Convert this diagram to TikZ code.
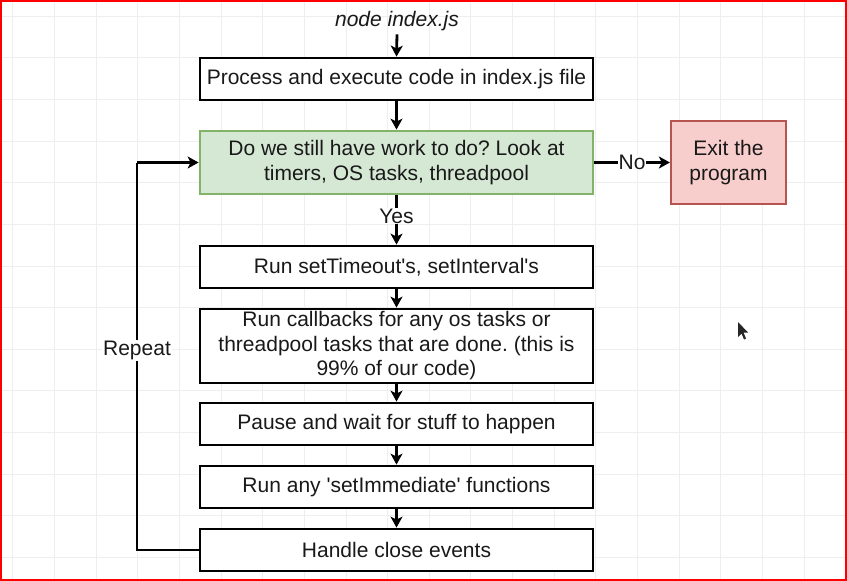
\documentclass[tikz,border=0pt]{standalone}
\usepackage{fontspec}
\setmainfont{Liberation Sans}
\newfontfamily\lsans{Liberation Sans}
\usetikzlibrary{arrows.meta}
\definecolor{gridc}{HTML}{EEEEEE}
\definecolor{greenfill}{HTML}{D5E8D4}
\definecolor{greenline}{HTML}{82B366}
\definecolor{redfill}{HTML}{F8CECC}
\definecolor{redline}{HTML}{B85450}
\tikzset{
  box/.style={draw=black, line width=2.8pt, fill=white, minimum width=393pt, inner sep=2pt,
    align=center, font=\lsans\fontsize{21}{24.5}\selectfont, text=black!90},
  conn/.style={line width=2.8pt, -{Stealth[length=11pt,width=12pt,inset=3pt]}},
  lbl/.style={fill=white, inner sep=1pt, font=\lsans\fontsize{21}{24}\selectfont, text=black!90}
}
\begin{document}
\frenchspacing
\begin{tikzpicture}[x=1pt,y=-1pt]
\useasboundingbox (0,0) rectangle (847,581);
\fill[white] (0,0) rectangle (847,581);
% faint grid
\foreach \i in {0,...,20} {\draw[gridc, line width=0.8pt] ({12.7+41.65*\i},0) -- ({12.7+41.65*\i},581);}
\foreach \j in {0,...,13} {\draw[gridc, line width=0.8pt] (0,{16+41.65*\j}) -- (847,{16+41.65*\j});}
% frame
\draw[red, line width=2pt] (1,1) rectangle (846,580);

\node[font=\lsans\fontsize{21}{24}\selectfont\itshape, text=black!90] (start) at (397,21) {node index.js};
\node[box, minimum height=42pt] (b1) at (396.5,79) {Process and execute code in index.js file};
\node[box, minimum height=63pt, draw=greenline, fill=greenfill] (check) at (396.5,162.5) {Do we still have work to do? Look at\\timers, OS tasks, threadpool};
\node[box, minimum width=115pt, minimum height=83pt, draw=redline, fill=redfill, line width=2.2pt] (exit) at (728.5,162.5) {Exit the\\program};
\node[box, minimum height=42pt] (b3) at (396.5,267) {Run setTimeout's, setInterval's};
\node[box, minimum height=74pt] (b4) at (396.5,346) {Run callbacks for any os tasks or\\threadpool tasks that are done. (this is\\99\% of our code)};
\node[box, minimum height=42pt] (b5) at (396.5,424) {Pause and wait for stuff to happen};
\node[box, minimum height=42pt] (b6) at (396.5,487) {Run any 'setImmediate' functions};
\node[box, minimum height=42pt] (b7) at (396.5,550) {Handle close events};

\coordinate (lb) at (137,550);
\coordinate (lt) at (137,162.5);

\draw[conn] (start.south) -- (b1.north);
\draw[conn] (b1.south) -- (check.north);
\draw[conn] (check.east) -- node[lbl, inner sep=0.5pt]{No} (exit.west);
\draw[conn] (check.south) -- node[lbl, pos=0.42]{Yes} (b3.north);
\draw[conn] (b3.south) -- (b4.north);
\draw[conn] (b4.south) -- (b5.north);
\draw[conn] (b5.south) -- (b6.north);
\draw[conn] (b6.south) -- (b7.north);
\draw[line width=2.8pt] (b7.west) -- (lb) -- node[lbl, pos=0.515]{Repeat} (lt);
\draw[conn] (lt) -- (check.west);

% mouse cursor
\fill[black!85] (738,322) -- (738,337) -- (741.5,333.5) -- (744,339.5) -- (746,338.5) -- (743.5,332.5) -- (748,332.5) -- cycle;
\end{tikzpicture}
\end{document}
